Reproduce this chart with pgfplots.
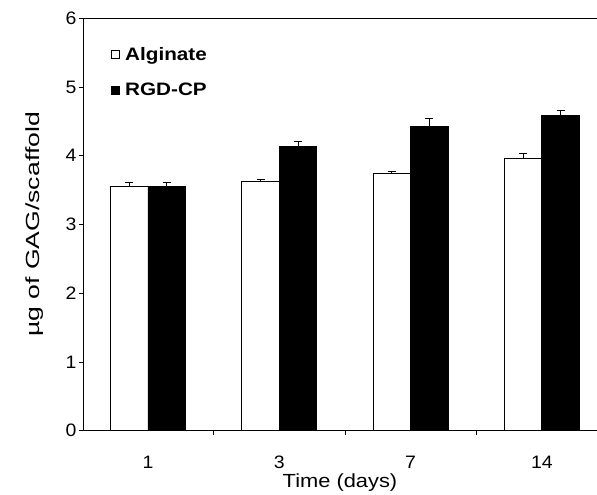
\documentclass[border=0pt]{standalone}
\usepackage{fontspec}
\setmainfont{Liberation Sans}
\newfontfamily\legfont{Liberation Sans Bold}[FakeStretch=1.15]
\usepackage{pgfplots}
\pgfplotsset{compat=1.18}
\begin{document}
\begin{tikzpicture}
\begin{axis}[
  scale only axis, width=514pt, height=412.4pt,
  xmin=0.505, xmax=4.42, ymin=0, ymax=6,
  axis x line*=bottom, axis y line*=left,
  axis line style={line width=0.8pt},
  ybar=0pt, bar width=37.5pt,
  xtick={1.5,2.5,3.5}, xticklabels={},
  extra x ticks={1,2,3,4}, extra x tick labels={1,3,7,14},
  extra x tick style={major tick length=0pt},
  major tick length=4pt,
  ytick={0,1,2,3,4,5,6},
  ytick style={xshift=-4pt},
  tick style={black, line width=0.6pt},
  /pgf/number format/assume math mode=true,
  tick label style={font=\fontsize{18}{21}\selectfont\addfontfeatures{FakeStretch=1.08}},
  xticklabel style={anchor=base, yshift=-38pt},
  yticklabel style={xshift=-3pt},
  xlabel={Time (days)},
  ylabel={µg of GAG/scaffold},
  xlabel style={font=\fontsize{19}{22}\selectfont\addfontfeatures{FakeStretch=1.15},
    at={(axis description cs:0.5,0)}, anchor=base, yshift=-57pt},
  ylabel style={font=\fontsize{19}{22}\selectfont\addfontfeatures{FakeStretch=1.4},
    at={(axis description cs:-0.0934,0.5)}, anchor=center},
  legend style={draw=none, fill=none, at={(0.055,0.935)}, anchor=north west,
    row sep=17pt, legend cell align=left, inner sep=0pt,
    font=\legfont\fontsize{18}{20}\selectfont},
  legend image code/.code={\draw[#1, draw=black, line width=0.6pt] (0pt,-4pt) rectangle (8pt,4pt); \path (11pt,0pt);},
  error bars/y dir=plus, error bars/y explicit,
  error bars/error bar style={black, line width=0.9pt},
  error bars/error mark options={rotate=90, mark size=4pt, black, line width=0.9pt},
]
\addplot[fill=white, draw=black, line width=0.8pt] coordinates {
  (1,3.56) +- (0,0.05)
  (2,3.62) +- (0,0.03)
  (3,3.74) +- (0,0.03)
  (4,3.96) +- (0,0.08)
};
\addplot[fill=black, draw=black, line width=0.8pt] coordinates {
  (1,3.55) +- (0,0.06)
  (2,4.14) +- (0,0.07)
  (3,4.42) +- (0,0.12)
  (4,4.59) +- (0,0.07)
};
\legend{Alginate, RGD-CP}
\draw[line width=0.8pt] (rel axis cs:0,1) -- (rel axis cs:1,1);
\end{axis}
\pgfresetboundingbox
\path (-83pt,-64.3pt) rectangle (514pt,430.7pt);
\end{tikzpicture}
\end{document}
